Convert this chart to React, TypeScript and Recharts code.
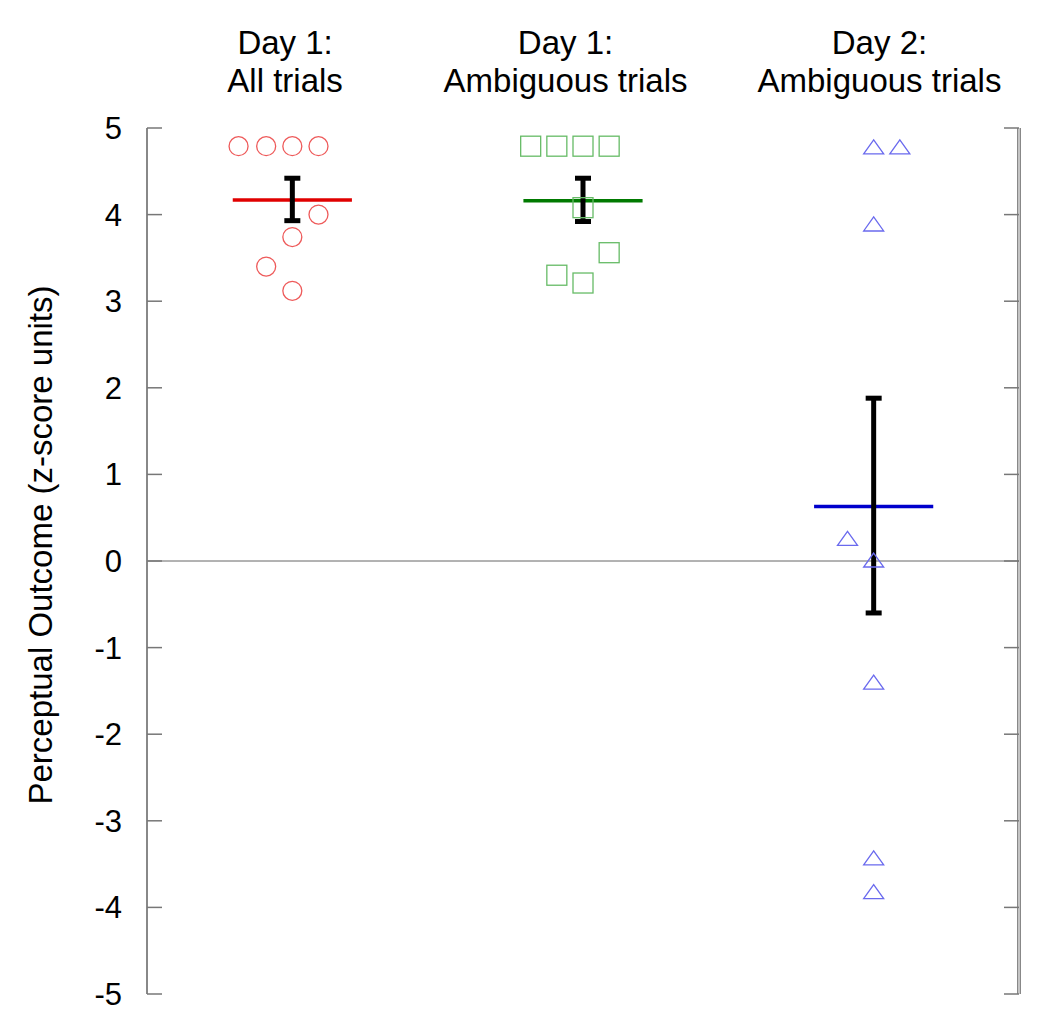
import { ComposedChart, Scatter, XAxis, YAxis, ReferenceLine, ErrorBar } from 'recharts';

const FONT = '"Liberation Sans", Arial, sans-serif';

// column headings, one entry per group (split into two lines)
const groupTitles = [
  ['Day 1:', 'All trials'],
  ['Day 1:', 'Ambiguous trials'],
  ['Day 2:', 'Ambiguous trials'],
];
const titlePositions = [0.95, 2.88, 5.04];
const groupCenters = [1, 3, 5];
const yTicks = [-5, -4, -3, -2, -1, 0, 1, 2, 3, 4, 5];

// individual subjects (x = group centre plus jitter)
const day1All = [
  { x: 0.63, y: 4.79 }, { x: 0.82, y: 4.79 }, { x: 1.0, y: 4.79 }, { x: 1.18, y: 4.79 },
  { x: 1.18, y: 4.0 }, { x: 1.0, y: 3.74 }, { x: 0.82, y: 3.4 }, { x: 1.0, y: 3.12 },
];
const day1Ambig = [
  { x: 2.64, y: 4.79 }, { x: 2.82, y: 4.79 }, { x: 3.0, y: 4.79 }, { x: 3.18, y: 4.79 },
  { x: 3.0, y: 4.08 }, { x: 3.18, y: 3.56 }, { x: 2.82, y: 3.3 }, { x: 3.0, y: 3.21 },
];
const day2Ambig = [
  { x: 5.0, y: 4.77 }, { x: 5.18, y: 4.77 }, { x: 5.0, y: 3.88 }, { x: 4.82, y: 0.25 },
  { x: 5.0, y: 0.0 }, { x: 5.0, y: -1.41 }, { x: 5.0, y: -3.44 }, { x: 5.0, y: -3.83 },
];

// group means and error bar ends
const means = [4.17, 4.16, 0.63];
const upper = [4.42, 4.42, 1.88];
const lower = [3.93, 3.92, -0.6];
const meanColors = ['#e00000', '#007a00', '#0000cc'];
const meanHalfWidth = 0.41;

const summary = groupCenters.map((x, i) => ({
  x,
  y: means[i],
  err: [means[i] - lower[i], upper[i] - means[i]],
}));

const Circle = (p: any) => (
  <circle cx={p.cx} cy={p.cy} r={9.5} fill="none" stroke="#ee5a5a" strokeWidth={1.3} />
);
const Square = (p: any) => (
  <rect x={p.cx - 10} y={p.cy - 10} width={20} height={20} fill="none" stroke="#66bb66" strokeWidth={1.3} />
);
const Triangle = (p: any) => (
  <polygon
    points={`${p.cx},${p.cy - 8} ${p.cx - 10},${p.cy + 6} ${p.cx + 10},${p.cy + 6}`}
    fill="none"
    stroke="#6a6aee"
    strokeWidth={1.3}
  />
);

const LeftTick = ({ x, y, payload }: any) => (
  <g>
    <line x1={x + 25} x2={x + 40} y1={y} y2={y} stroke="#777" strokeWidth={1.5} />
    <text x={x} y={y} dy={11} textAnchor="end" fontSize={31} fontFamily={FONT} fill="#000">
      {payload.value}
    </text>
  </g>
);

const RightTick = ({ x, y }: any) => (
  <line x1={x - 15} x2={x} y1={y} y2={y} stroke="#777" strokeWidth={1.5} />
);

const TitleTick = ({ x, y, payload }: any) => {
  const idx = titlePositions.indexOf(payload.value);
  const lines = groupTitles[idx] || [];
  return (
    <text textAnchor="middle" fontSize={33} fontFamily={FONT} fill="#000">
      <tspan x={x} y={y - 74}>{lines[0]}</tspan>
      <tspan x={x} y={y - 36}>{lines[1]}</tspan>
    </text>
  );
};

const YLabel = ({ viewBox }: any) => {
  const cx = 40;
  const cy = viewBox.y + viewBox.height / 2 - 16;
  return (
    <text
      x={cx}
      y={cy}
      transform={`rotate(-90 ${cx} ${cy})`}
      textAnchor="middle"
      dominantBaseline="central"
      fontSize={33}
      fontFamily={FONT}
      fill="#000"
    >
      Perceptual Outcome (z-score units)
    </text>
  );
};

const noDot = () => <g />;

export default function App() {
  return (
    <div style={{ position: 'absolute', left: 0, top: 0, background: '#fff' }}>
      <ComposedChart width={1050} height={1028} margin={{ top: 0, right: 0, bottom: 34, left: 0 }}>
        <XAxis
          xAxisId="top"
          orientation="top"
          type="number"
          dataKey="x"
          domain={[0, 6]}
          ticks={titlePositions}
          height={128}
          axisLine={false}
          tickLine={false}
          tickSize={0}
          tickMargin={0}
          tick={<TitleTick />}
          interval={0}
          allowDataOverflow
        />
        <YAxis
          yAxisId="left"
          type="number"
          domain={[-5, 5]}
          ticks={yTicks}
          width={147}
          axisLine={{ stroke: '#888', strokeWidth: 2 }}
          tickLine={false}
          tickSize={0}
          tickMargin={25}
          tick={<LeftTick />}
          interval={0}
          label={<YLabel />}
        />
        <YAxis
          yAxisId="right"
          orientation="right"
          type="number"
          domain={[-5, 5]}
          ticks={yTicks}
          width={31}
          axisLine={false}
          tickLine={false}
          tickSize={0}
          tickMargin={0}
          tick={<RightTick />}
          interval={0}
        />
        <ReferenceLine xAxisId="top" yAxisId="left" x={6} stroke="#888" strokeWidth={4} />
        <ReferenceLine xAxisId="top" yAxisId="left" x={6} stroke="#d8d8d8" strokeWidth={1.5} />
        <ReferenceLine xAxisId="top" yAxisId="left" y={0} stroke="#666" strokeWidth={1} />

        <Scatter xAxisId="top" yAxisId="left" data={day1All} dataKey="y" shape={<Circle />} isAnimationActive={false} />
        <Scatter xAxisId="top" yAxisId="left" data={day1Ambig} dataKey="y" shape={<Square />} isAnimationActive={false} />
        <Scatter xAxisId="top" yAxisId="left" data={day2Ambig} dataKey="y" shape={<Triangle />} isAnimationActive={false} />
        {/* keeps the right-hand axis bound to a series so its ticks render */}
        <Scatter xAxisId="top" yAxisId="right" data={summary} dataKey="y" shape={noDot} isAnimationActive={false} />

        {groupCenters.map((c, i) => (
          <ReferenceLine
            key={`mean-${i}`}
            xAxisId="top"
            yAxisId="left"
            segment={[
              { x: c - meanHalfWidth, y: means[i] },
              { x: c + meanHalfWidth, y: means[i] },
            ]}
            stroke={meanColors[i]}
            strokeWidth={3.5}
          />
        ))}

        <Scatter xAxisId="top" yAxisId="left" data={summary} dataKey="y" shape={noDot} isAnimationActive={false}>
          <ErrorBar dataKey="err" direction="y" width={8} stroke="#000" strokeWidth={5} isAnimationActive={false} />
        </Scatter>
      </ComposedChart>
    </div>
  );
}
